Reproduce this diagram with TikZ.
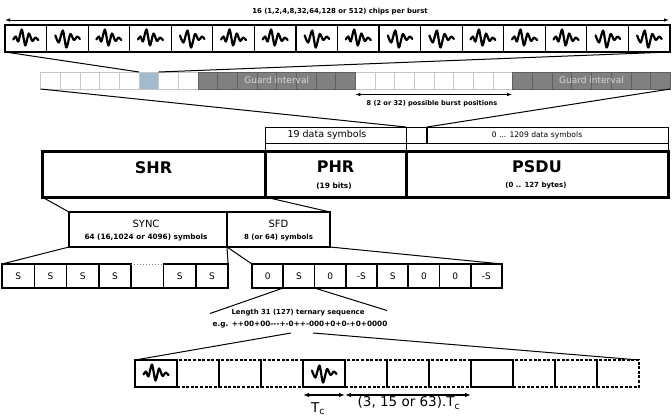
\documentclass[tikz,border=0pt]{standalone}
\usepackage{fontspec}
\setmainfont{DejaVu Sans}
\usetikzlibrary{arrows.meta,calc}
\definecolor{burstblue}{RGB}{163,187,207}
\definecolor{guardgray}{RGB}{128,128,128}
\definecolor{guardline}{RGB}{96,96,96}
\definecolor{guardtext}{RGB}{215,215,215}
\newcommand{\fs}[1]{\fontsize{#1}{#1}\selectfont}
\begin{document}
\begin{tikzpicture}[x=1pt,y=-1pt,
  every node/.style={inner sep=0pt,outer sep=0pt},
  chip/.style={draw,line width=1.2pt,fill=white,minimum width=41.56,minimum height=27,anchor=north west},
  wcell/.style={draw=gray!45,line width=0.6pt,fill=white,minimum width=19.67,minimum height=17,anchor=north west},
  gcell/.style={draw=guardline,line width=0.6pt,fill=guardgray,minimum width=19.67,minimum height=17,anchor=north west},
  bcell/.style={draw=gray!45,line width=0.6pt,fill=burstblue,minimum width=19.67,minimum height=17,anchor=north west},
  thinbox/.style={draw,line width=0.8pt,anchor=north west},
  mainbox/.style={draw,line width=3pt,anchor=north west,minimum height=46},
  midbox/.style={draw,line width=2pt,anchor=north west,minimum height=35},
  sbox/.style={draw,line width=1.6pt,fill=white,anchor=north west,minimum width=32.3,minimum height=24,font=\fs{9}},
  zbox/.style={draw,line width=1.6pt,fill=white,anchor=north west,minimum width=31.25,minimum height=24,font=\fs{9}},
  pbox/.style={draw,line width=1.3pt,fill=white,anchor=north west,minimum width=42,minimum height=27},
  pdash/.style={draw,line width=1.3pt,dash pattern=on 3pt off 1.6pt,anchor=north west,minimum width=42,minimum height=27},
  zoomline/.style={line width=1pt},
  dimthin/.style={{Latex[length=5pt,width=3.5pt]}-{Latex[length=5pt,width=3.5pt]},line width=0.8pt},
  dimthick/.style={{Latex[length=6pt,width=4.5pt]}-{Latex[length=6pt,width=4.5pt]},line width=1.4pt},
  smallbold/.style={font=\fs{6.9}\bfseries},
  waveA/.pic={\draw[line width=2.2pt,line cap=round,line join=round]
     plot[smooth,tension=0.45] coordinates {(-12.5,1) (-10,-2) (-7.5,3) (-4,-9) (-0.5,7) (3,-5) (6.5,2.5) (9.5,-1) (12.5,1.5)};},
  waveB/.pic={\draw[line width=2.2pt,line cap=round,line join=round]
     plot[smooth,tension=0.45] coordinates {(-12,-3) (-8.5,4) (-4.5,-8) (-1,9) (3,-4.5) (6.5,1.5) (10,-2) (12.5,0.5)};}
]
\useasboundingbox (0,0) rectangle (672,418);

% ---------- top: chips per burst ----------
\coordinate (tl) at (5,20);
\coordinate (tr) at (669,20);
\draw[dimthin] (tl) -- (tr);
\node[smallbold] (toplab) at (340,12) {16 (1,2,4,8,32,64,128 or 512) chips per burst};

\foreach \i/\t in {0/A,1/B,2/A,3/A,4/B,5/A,6/A,7/B,8/A,9/B,10/B,11/A,12/A,13/A,14/B,15/B}{
  \node[chip] (c\i) at ({5+41.56*\i},25) {};
  \pic at (c\i.center) {wave\t};
}

% ---------- burst positions row ----------
\foreach \o in {0,16}{
  \foreach \j in {0,...,7}{
    \pgfmathtruncatemacro{\i}{\o+\j}
    \node[wcell] (b\i) at ({40.7+19.67*\i},72) {};
  }
}
\foreach \o in {8,24}{
  \foreach \j in {0,...,7}{
    \pgfmathtruncatemacro{\i}{\o+\j}
    \node[gcell] (b\i) at ({40.7+19.67*\i},72) {};
  }
}
\node[bcell] (blue) at (b5.north west) {};
\node[font=\fs{9},text=guardtext] (gi1) at ($(b11.center)!0.5!(b12.center)$) {Guard interval};
\node[font=\fs{9},text=guardtext] (gi2) at ($(b27.center)!0.5!(b28.center)$) {Guard interval};

\draw[zoomline] (c0.south west) -- (blue.north west);
\draw[zoomline] (c15.south east) -- (blue.north east);

\coordinate (bpl) at (355.4,94.5);
\coordinate (bpr) at (512.1,94.5);
\draw[dimthin] (bpl) -- (bpr);
\node[font=\fs{6.6}\bfseries] (bplab) at (432,104) {8 (2 or 32) possible burst positions};

% ---------- data symbols row ----------
\node[thinbox,minimum width=141,minimum height=16] (ds1) at (265,127) {};
\node[thinbox,minimum width=21,minimum height=16] (ds2) at (406,127) {};
\node[thinbox,minimum width=241,minimum height=16] (ds3) at (427,127) {};
\node[font=\fs{9.5}] (ds1t) at (327,135) {19 data symbols};
\node[font=\fs{7.6}] (ds3t) at (537,135) {0 ... 1209 data symbols};
\node[thinbox,minimum width=141,minimum height=8] (st1) at (265,143) {};
\node[thinbox,minimum width=262,minimum height=8] (st2) at (406,143) {};
\draw[line width=2pt] (ds3.north west) -- (ds3.south west);

\draw[zoomline] (b0.south west) -- (ds2.north west);
\draw[zoomline] (b31.south east) -- (ds3.north west);

% ---------- SHR / PHR / PSDU ----------
\node[mainbox,minimum width=223] (shr) at (42,151) {};
\node[mainbox,minimum width=141] (phr) at (265,151) {};
\node[mainbox,minimum width=262] (psdu) at (406,151) {};
\node[font=\fs{16}\bfseries] (shrt) at (153.5,168) {SHR};
\node[font=\fs{16}\bfseries] (phrt) at (335.5,167) {PHR};
\node[font=\fs{7.4}\bfseries] (phrs) at (334,186) {(19 bits)};
\node[font=\fs{16}\bfseries] (psdut) at (537,167) {PSDU};
\node[font=\fs{7}\bfseries] (psdus) at (536,186) {(0 .. 127 bytes)};

% ---------- SYNC / SFD ----------
\node[midbox,minimum width=158] (sync) at (69,212) {};
\node[midbox,minimum width=103] (sfd) at (227,212) {};
\node[font=\fs{10}] (synct) at (146,223.5) {SYNC};
\node[font=\fs{7.3}\bfseries] (syncs) at (146,238) {64 (16,1024 or 4096) symbols};
\node[font=\fs{10}] (sfdt) at (278.5,223.5) {SFD};
\node[font=\fs{7}\bfseries] (sfds) at (278.5,238) {8 (or 64) symbols};

\draw[zoomline] (shr.south west) -- (sync.north west);
\draw[zoomline] (shr.south east) -- (sfd.north east);

% ---------- S row ----------
\foreach \i/\l in {0/S,1/S,2/S,3/S,5/S,6/S}{
  \node[sbox] (s\i) at ({2+32.3*\i},264) {\l};
}
\coordinate (gapnw) at (s3.north east);
\coordinate (gapne) at (s5.north west);
\coordinate (gapsw) at (s3.south east);
\coordinate (gapse) at (s5.south west);
\draw[gray,dotted,line width=1pt] (gapnw) -- (gapne);
\draw[line width=1.6pt] (gapsw) -- (gapse);

\draw[zoomline] (sync.south west) -- (s0.north west);
\draw[zoomline] (sync.south east) -- (s6.north east);

% ---------- SFD row ----------
\foreach \i/\l in {0/0,1/S,2/0,3/-S,4/S,5/0,6/0,7/-S}{
  \node[zbox] (z\i) at ({252+31.25*\i},264) {\l};
}
\draw[zoomline] (sfd.south west) -- (z0.north west);
\draw[zoomline] (sfd.south east) -- (z7.north east);

% ---------- ternary sequence ----------
\node[font=\fs{6.9}\bfseries] (len) at (298,313) {Length 31 (127) ternary sequence};
\node[font=\fs{7.3}\bfseries] (seq) at (300,325) {e.g. ++00+00-{}-{}-+-0++-000+0+0-+0+0000};
\coordinate (lenl) at (210,313.5);
\coordinate (lenr) at (387,310.5);
\draw[zoomline] (z1.south west) -- (lenl);
\draw[zoomline] (z1.south east) -- (lenr);

% ---------- bottom row ----------
\foreach \i in {0,...,11}{
  \node[pdash] (p\i) at ({135+42*\i},360) {};
}
\foreach \i in {0,4,8}{
  \node[pbox] (q\i) at (p\i.north west) {};
}
\pic at (q0.center) {waveA};
\pic at (q4.center) {waveB};

\coordinate (seql) at (291,333);
\coordinate (seqr) at (313,333);
\draw[zoomline] (seql) -- (p0.north west);
\draw[zoomline] (seqr) -- (p11.north east);

\coordinate (a1) at (303,395);
\coordinate (a2) at (345,395);
\coordinate (a3) at (471,395);
\draw[dimthick] (a1) -- (a2);
\draw[dimthick] (a2) -- (a3);
\node[font=\fs{13.5}] (tc) at (318,409) {T\textsubscript{c}};
\node[font=\fs{13.5}] (tcm) at (409,403) {(3, 15 or 63).T\textsubscript{c}};
\end{tikzpicture}
\end{document}
